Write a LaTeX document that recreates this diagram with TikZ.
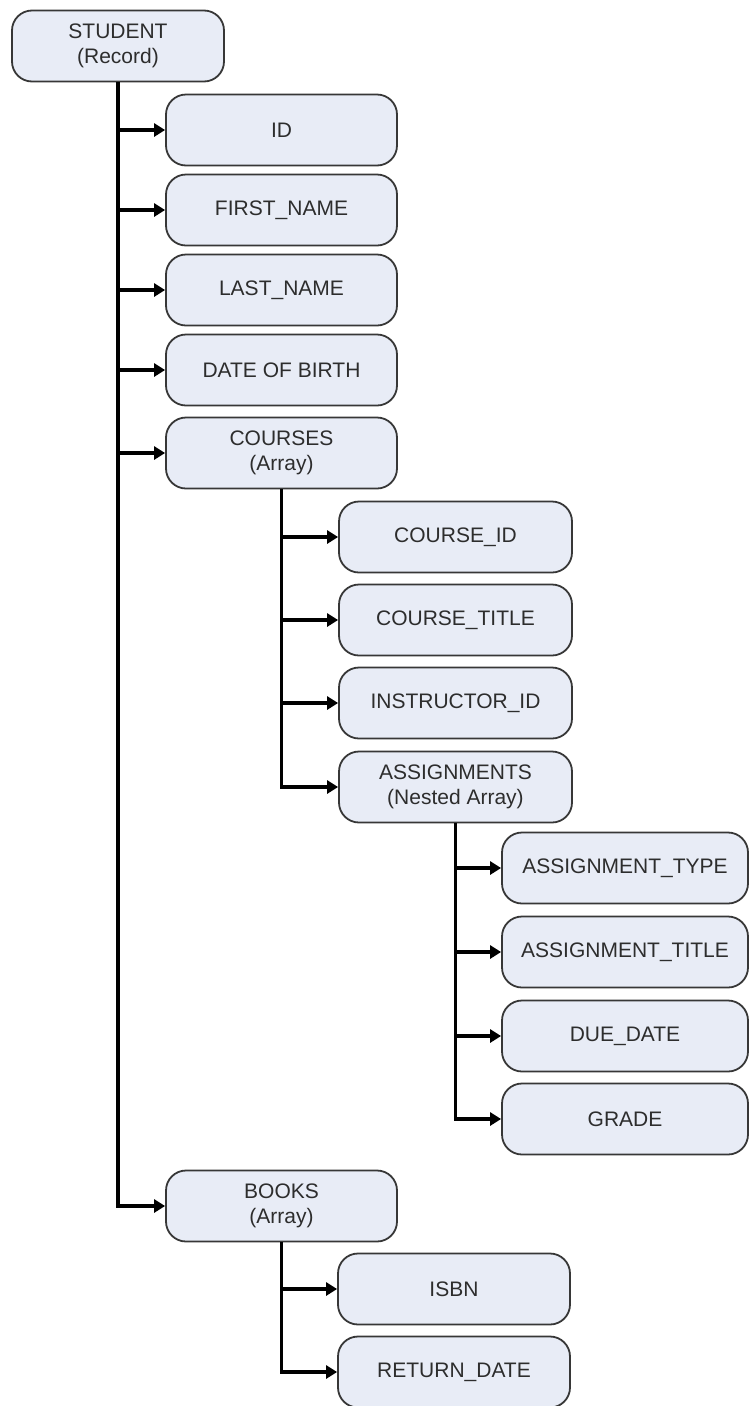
\documentclass[tikz,border=0pt]{standalone}
\usepackage{fontspec}
\setmainfont{Liberation Sans}
\usetikzlibrary{arrows.meta}
\definecolor{boxfill}{RGB}{232,236,246}
\definecolor{boxline}{RGB}{55,55,55}
\definecolor{txt}{RGB}{45,45,45}
\begin{document}
\begin{tikzpicture}[x=1pt,y=-1pt,
  fld/.style={draw=boxline, line width=1.8pt, fill=boxfill, rounded corners=20pt,
    minimum height=71pt, inner sep=0pt, align=center, text=txt,
    font=\fontsize{21}{25}\selectfont},
  lv0/.style={fld, minimum width=212pt},
  lv1/.style={fld, minimum width=231pt},
  lv2/.style={fld, minimum width=233pt},
  lv3/.style={fld, minimum width=246pt},
  conn/.style={draw=black, line width=3.4pt, -{Triangle[length=11pt,width=13pt]}}]
\useasboundingbox (0,0) rectangle (749,1406);
% nodes
\node[lv0] (student) at (118,46) {STUDENT\\(Record)};
\node[lv1] (id) at (281.5,130) {ID};
\node[lv1] (first) at (281.5,210) {FIRST\_NAME};
\node[lv1] (last) at (281.5,290) {LAST\_NAME};
\node[lv1] (dob) at (281.5,370) {DATE OF BIRTH};
\node[lv1] (courses) at (281.5,453) {COURSES\\(Array)};
\node[lv2] (cid) at (455.5,537) {COURSE\_ID};
\node[lv2] (ctitle) at (455.5,620) {COURSE\_TITLE};
\node[lv2] (instr) at (455.5,703) {INSTRUCTOR\_ID};
\node[lv2] (assign) at (455.5,787) {ASSIGNMENTS\\(Nested Array)};
\node[lv3] (atype) at (625,868) {ASSIGNMENT\_TYPE};
\node[lv3] (atitle) at (625,952) {ASSIGNMENT\_TITLE};
\node[lv3] (due) at (625,1036) {DUE\_DATE};
\node[lv3] (grade) at (625,1119) {GRADE};
\node[lv1] (books) at (281.5,1206) {BOOKS\\(Array)};
\node[lv2, minimum width=232pt] (isbn) at (454,1289) {ISBN};
\node[lv2, minimum width=232pt] (ret) at (454,1372) {RETURN\_DATE};
% connectors
\foreach \c in {id,first,last,dob,courses,books}
  \draw[conn] (student.south) |- (\c.west);
\foreach \c in {cid,ctitle,instr,assign}
  \draw[conn] (courses.south) |- (\c.west);
\foreach \c in {atype,atitle,due,grade}
  \draw[conn] (assign.south) |- (\c.west);
\foreach \c in {isbn,ret}
  \draw[conn] (books.south) |- (\c.west);
\end{tikzpicture}
\end{document}
